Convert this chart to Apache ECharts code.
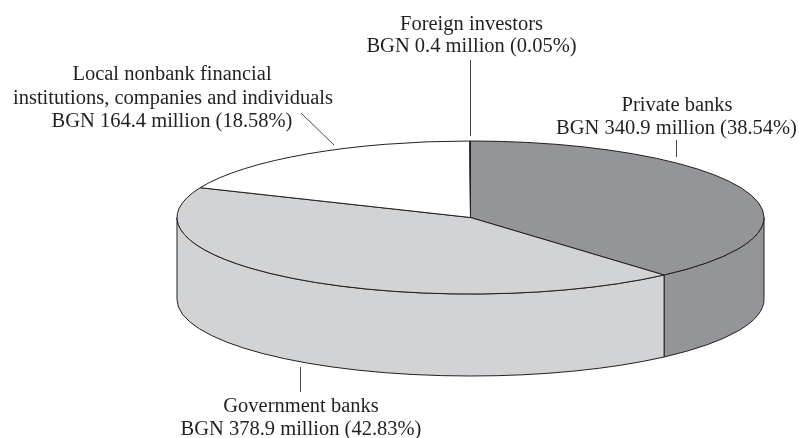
<!DOCTYPE html>
<html>
<head>
<meta charset="utf-8">
<style>
  html, body { margin: 0; padding: 0; background: #fff; }
  #main { width: 799px; height: 438px; }
</style>
<script src="https://cdn.jsdelivr.net/npm/echarts@6/dist/echarts.min.js"></script>
</head>
<body>
<div id="main"></div>
<script>
// values in BGN million, clockwise from 12 o'clock
var categories = ['Private banks', 'Government banks', 'Local nonbank', 'Foreign investors'];
var amounts = [340.9, 378.9, 164.4, 0.4];
var percents = ['38.54%', '42.83%', '18.58%', '0.05%'];
var colors = ['#939598', '#d1d3d4', '#ffffff', '#ffffff'];

var cx = 470.5, cy = 217.5, rx = 293.5, ry = 76.5, depth = 82;
var edge = '#231f20';

var total = 0;
amounts.forEach(function (v) { total += v; });

function angleOf(v) {
    return echarts.number.linearMap(v, [0, total], [0, Math.PI * 2]);
}
function startOf(i) {
    var s = 0;
    for (var k = 0; k < i; k++) s += amounts[k];
    return angleOf(s);
}
function px(t) { return cx + rx * Math.sin(t); }
function py(t) { return cy - ry * Math.cos(t); }
function moneyLine(i) {
    return 'BGN ' + amounts[i] + ' million (' + percents[i] + ')';
}

// clockwise arc on the top ellipse
function arcTo(t0, t1) {
    var large = t1 - t0 > Math.PI ? 1 : 0;
    return 'A' + rx + ' ' + ry + ' 0 ' + large + ' 1 ' + px(t1) + ' ' + py(t1);
}

// only the front half of the rim shows
function renderWall(params, api) {
    var i = api.value(0);
    var t0 = Math.max(startOf(i), Math.PI / 2);
    var t1 = Math.min(startOf(i) + angleOf(api.value(1)), Math.PI * 1.5);
    if (t1 <= t0) return null;
    var large = t1 - t0 > Math.PI ? 1 : 0;
    var d = 'M' + px(t0) + ' ' + py(t0) + arcTo(t0, t1) +
        'L' + px(t1) + ' ' + (py(t1) + depth) +
        'A' + rx + ' ' + ry + ' 0 ' + large + ' 0 ' + px(t0) + ' ' + (py(t0) + depth) + 'Z';
    return {
        type: 'path',
        shape: { pathData: d },
        style: { fill: colors[i], stroke: edge, lineWidth: 1 }
    };
}

function renderTop(params, api) {
    var i = api.value(0);
    var t0 = startOf(i);
    var t1 = t0 + angleOf(api.value(1));
    var d = 'M' + cx + ' ' + cy + 'L' + px(t0) + ' ' + py(t0) + arcTo(t0, t1) + 'Z';
    return {
        type: 'path',
        shape: { pathData: d },
        style: { fill: colors[i], stroke: edge, lineWidth: 1, lineJoin: 'round' }
    };
}

var seriesData = amounts.map(function (v, i) { return [i, v]; });

// annotation text, each line placed on its own like the printed figure
var labelLines = [
    { text: categories[3], x: 471.5, y: 25 },
    { text: moneyLine(3), x: 471.5, y: 47 },
    { text: 'Local nonbank financial', x: 172, y: 75 },
    { text: 'institutions, companies and individuals', x: 173, y: 99 },
    { text: moneyLine(2), x: 172, y: 122 },
    { text: categories[0], x: 677, y: 106 },
    { text: moneyLine(0), x: 676.5, y: 129 },
    { text: categories[1], x: 301, y: 407 },
    { text: moneyLine(1), x: 301, y: 430 }
];
var leaders = [
    [470.5, 60, 470.5, 136],
    [301, 113, 334, 145],
    [676.5, 140, 676.5, 157],
    [300.5, 367, 300.5, 392]
];

var graphics = [];
labelLines.forEach(function (l) {
    graphics.push({
        type: 'text', silent: true, x: l.x, y: l.y,
        style: {
            text: l.text, fill: edge, align: 'center', verticalAlign: 'middle',
            font: '20.5px "Liberation Serif"'
        }
    });
});
leaders.forEach(function (l) {
    graphics.push({
        type: 'line', silent: true,
        shape: { x1: l[0], y1: l[1], x2: l[2], y2: l[3] },
        style: { stroke: '#444', lineWidth: 1 }
    });
});

var myChart = echarts.init(document.getElementById('main'), null, { renderer: 'canvas' });
var option = {
    animation: false,
    backgroundColor: '#fff',
    tooltip: { show: false },
    graphic: graphics,
    series: [
        { type: 'custom', coordinateSystem: 'none', silent: true, z: 1, renderItem: renderWall, data: seriesData },
        { type: 'custom', coordinateSystem: 'none', silent: true, z: 2, renderItem: renderTop, data: seriesData }
    ]
};
myChart.setOption(option);
</script>
</body>
</html>
